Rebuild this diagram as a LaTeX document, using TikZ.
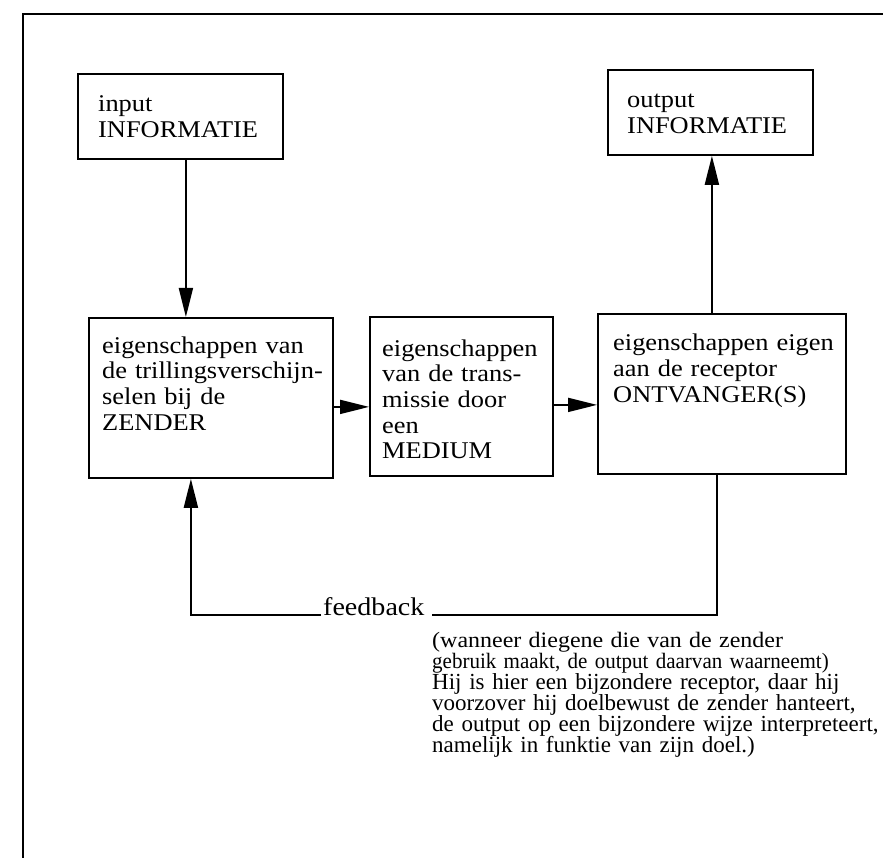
\documentclass[tikz,border=0pt]{standalone}
\usepackage{fontspec}
\setmainfont{Liberation Serif}
\newfontfamily\boxfont[FakeStretch=1.1]{Liberation Serif}
\newfontfamily\parafont{Liberation Serif}
\newfontfamily\parawide[FakeStretch=1.09]{Liberation Serif}
\newfontfamily\paranarrow[FakeStretch=0.955]{Liberation Serif}
\newcommand\myparaA{\parafont\fontsize{22}{21.3}\selectfont\lineskiplimit=-30pt\relax}
\newcommand\myparaB{\parafont\fontsize{23}{21.3}\selectfont\lineskiplimit=-30pt\relax}
\usetikzlibrary{arrows.meta}
\begin{document}
\begin{tikzpicture}[x=1pt,y=-1pt,
  box/.style={draw,line width=1.8pt,inner sep=0pt,anchor=north west},
  txt/.style={anchor=base west,inner sep=0pt,align=left,text width=#1},
  txt/.default=300pt,
  arr/.style={line width=1.8pt,-{Triangle[length=29pt,width=14pt]}},
  ln/.style={line width=1.8pt},
  bf/.style={font=\boxfont\fontsize{24}{25.7}\selectfont}]
\useasboundingbox (0,0) rectangle (883,858);
% frame
\draw[ln] (23,858) -- (23,14) -- (883,14);
% boxes
\node[box,minimum width=205pt,minimum height=85pt] (inB) at (77,73) {};
\node[box,minimum width=205pt,minimum height=85pt] (outB) at (607,69) {};
\node[box,minimum width=244pt,minimum height=160pt] (zenB) at (88,317) {};
\node[box,minimum width=183pt,minimum height=159pt] (medB) at (369,316) {};
\node[box,minimum width=248pt,minimum height=160pt] (recB) at (597,313) {};
% texts
\node[txt,bf] (inT) at (98,112) {input\\INFORMATIE};
\node[txt,bf] (outT) at (627,108) {output\\INFORMATIE};
\node[txt,bf] (zenT) at (102,353) {eigenschappen van\\de trillingsverschijn-\\selen bij de\\ZENDER};
\node[txt,bf] (medT) at (382,356) {eigenschappen\\van de trans-\\missie door\\een\\MEDIUM};
\node[txt,bf] (recT) at (613,351) {eigenschappen eigen\\aan de receptor\\ONTVANGER(S)};
\node[txt,font=\boxfont\fontsize{25.5}{26}\selectfont] (fb) at (323,615) {feedback};
\node[txt=460pt,font=\myparaA] (para1) at (432,647)
  {{\parawide (wanneer diegene die van de zender}\\{\paranarrow gebruik maakt, de output daarvan waarneemt)}};
\node[txt=460pt,font=\myparaB] (para2) at (432,689)
  {Hij is hier een bijzondere receptor, daar hij\\voorzover hij doelbewust de zender hanteert,\\de output op een bijzondere wijze interpreteert,\\namelijk in funktie van zijn doel.)};
% connectors
\draw[arr] ([xshift=5.5pt]inB.south) -- ([xshift=5.5pt]inB.south |- zenB.north);
\draw[arr] ([yshift=-9pt]zenB.east) -- ([yshift=-9pt]zenB.east -| medB.west);
\draw[arr] ([yshift=-8.5pt]medB.east) -- ([yshift=-8.5pt]medB.east -| recB.west);
\draw[arr] ([xshift=-10pt]recB.north) -- ([xshift=-10pt]recB.north |- outB.south);
\coordinate (fbR) at (432,615);
\coordinate (fbL) at (321,615);
\draw[ln] ([xshift=-5pt]recB.south) |- (fbR);
\draw[arr] (fbL) -| ([xshift=-20pt]zenB.south);
\end{tikzpicture}
\end{document}
